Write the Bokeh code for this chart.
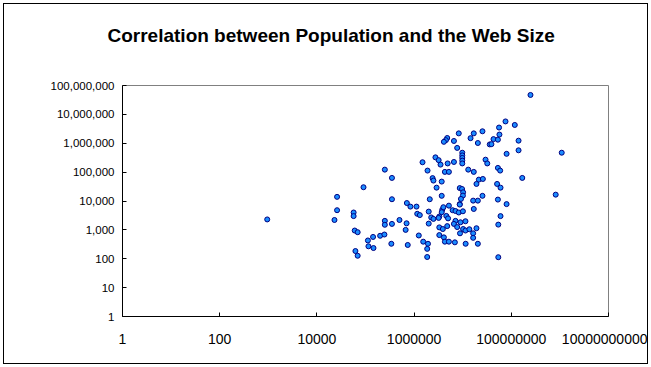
from bokeh.plotting import figure
from bokeh.models import Range1d, FixedTicker, NumeralTickFormatter, Title, ColumnDataSource
from bokeh.embed import file_html
from bokeh.resources import INLINE

# Population (x) and web size (y)
population = [
    2.48e8, 7.6e7, 1.18e8, 5.6e7, 2.55e7, 1.69e7, 8.3e6, 1.45e7, 4.8e6, 4.5e6,
    4.1e6, 6.6e6, 2.05e7, 5.7e7, 4.3e7, 5.3e7, 3.6e7, 3.9e7, 1.41e8, 1.41e8,
    8.0e7, 1.09e9, 7.7e6, 9.8e6, 9.8e6, 9.8e6, 9.8e6, 9.8e6, 2.75e6, 3.2e6,
    1.49e6, 3.5e6, 4.9e6, 6.6e6, 2.95e7, 3.2e7, 2.5e5, 1.89e6, 4.3e6, 5.2e6,
    1.3e7, 1.69e7, 5.3e7, 5.9e7, 1.68e8, 3.5e5, 2.4e6, 2.5e6, 3.7e6, 2.15e7,
    2.6e7, 1.92e7, 5.1e7, 6.0e7, 2.9e6, 8.7e6, 9.7e6, 1.02e7, 1.01e7, 9.2e6,
    8.7e6, 9.1e4, 8.2e8, 2.55e7, 5.3e7, 3.7e6, 2.1e6, 3.5e5, 1.64e7, 2.05e7,
    2.6e4, 8.0e7, 7.1e5, 8.4e5, 1.12e6, 1.69e7, 6.0e7, 5.4e7, 2.6e4, 5.7e4,
    5.7e4, 2.3e4, 950, 1.16e6, 1.31e6, 2.0e6, 2.25e6, 2.5e6, 3.8e6, 4.0e6,
    3.7e6, 3.3e6, 3.2e6, 5.2e6, 6.2e6, 7.1e6, 8.3e6, 1.01e7, 8.7e6, 4.6e6,
    5.0e6, 7.1e6, 6.6e6, 7.7e6, 9.0e6, 1.14e7, 1.02e7, 1.14e7, 1.37e7, 1.92e7,
    8.8e6, 1.64e7, 1.64e7, 2.05e7, 1.15e7, 3.3e6, 3.9e6, 4.8e6, 2.0e6, 3.3e6,
    4.1e6, 4.3e6, 5.2e6, 6.9e6, 2.5e5, 2.5e5, 3.5e5, 5.0e5, 7.0e5, 6.7e5,
    1.25e6, 1.54e6, 1.93e6, 1.86e6, 1.86e6, 5.4e7, 7.4e5, 3.4e5, 2.0e5, 2.45e5,
    1.43e5, 1.12e5, 1.15e5, 1.46e5, 6.0e4, 6.9e4, 6.2e4, 6.9e4,
]
web_size = [
    4.7e7, 5.7e6, 4.3e6, 3.5e6, 2.6e6, 2.2e6, 2.2e6, 1.5e6, 1.52e6, 1.28e6,
    1.12e6, 1.2e6, 1.02e6, 2.0e6, 1.39e6, 1.33e6, 9.1e5, 9.3e5, 1.23e6, 5.7e5,
    4.3e5, 4.7e5, 6.9e5, 4.7e5, 3.8e5, 3.1e5, 2.5e5, 2.0e5, 3.25e5, 2.6e5,
    2.2e5, 1.82e5, 2.0e5, 2.25e5, 2.7e5, 2.0e5, 1.22e5, 1.13e5, 1.02e5, 1.02e5,
    1.22e5, 1.02e5, 1.4e5, 1.13e5, 6.3e4, 6.3e4, 6.2e4, 5.1e4, 4.7e4, 5.5e4,
    5.8e4, 3.9e4, 3.9e4, 2.9e4, 2.9e4, 2.8e4, 2.6e4, 2.0e4, 1.54e4, 1.18e4,
    7.8e3, 3.0e4, 1.66e4, 1.51e4, 1.12e4, 1.51e4, 1.15e4, 1.15e4, 1.03e4, 1.03e4,
    1.39e4, 7.8e3, 8.5e3, 6.4e3, 6.4e3, 5.3e3, 3.0e3, 1.52e3, 4.8e3, 4.0e3,
    3.0e3, 2.2e3, 2.3e3, 3.6e3, 3.25e3, 4.3e3, 2.7e3, 2.4e3, 5.0e3, 6.1e3,
    4.1e3, 2.9e3, 2.6e3, 6.9e3, 4.8e3, 4.5e3, 4.0e3, 4.4e3, 7.5e3, 3.05e3,
    2.5e3, 2.05e3, 1.61e3, 1.25e3, 1.83e3, 1.99e3, 1.07e3, 950, 1.05e3, 1.14e3,
    760, 760, 530, 330, 330, 1.22e3, 1.07e3, 1.35e3, 1.65e3, 660,
    550, 390, 390, 370, 2.05e3, 1.5e3, 1.61e3, 2.2e3, 1.69e3, 1.0e3,
    640, 390, 330, 220, 115, 113, 300, 330, 625, 690,
    570, 430, 270, 235, 950, 830, 185, 127,
]

x_ticks = [1, 100, 1e4, 1e6, 1e8, 1e10]
y_ticks = [1, 10, 100, 1e3, 1e4, 1e5, 1e6, 1e7, 1e8]
title_text = "Correlation between Population and the Web Size"

source = ColumnDataSource(data=dict(population=population, web_size=web_size))

p = figure(
    width=645, height=361,
    x_axis_type="log", y_axis_type="log",
    x_range=Range1d(1, 1e10), y_range=Range1d(1, 1e8),
    output_backend="svg", toolbar_location=None,
    min_border_left=118, min_border_right=41,
    min_border_top=81, min_border_bottom=49,
)
p.styles = {"border": "1px solid black", "margin-left": "3px", "margin-top": "3px"}
p.background_fill_color = "white"
p.border_fill_color = "white"
p.outline_line_color = "#808080"
p.outline_line_width = 1
p.grid.visible = False

for ax in (p.xaxis[0], p.yaxis[0]):
    ax.axis_line_color = "black"
    ax.major_tick_line_color = "black"
    ax.major_tick_in = 4
    ax.major_tick_out = 0
    ax.minor_tick_line_color = None
    ax.major_label_text_font = "Liberation Sans"
    ax.major_label_text_color = "black"

p.xaxis[0].ticker = FixedTicker(ticks=x_ticks)
p.yaxis[0].ticker = FixedTicker(ticks=y_ticks)
p.xaxis[0].formatter = NumeralTickFormatter(format="0")
p.yaxis[0].formatter = NumeralTickFormatter(format="0,0")
p.xaxis[0].major_label_text_font_size = "14px"
p.yaxis[0].major_label_text_font_size = "11.5px"
p.xaxis[0].major_label_standoff = 17
p.yaxis[0].major_label_standoff = 8

p.scatter("population", "web_size", source=source, size=5,
          fill_color="#1a8cff", line_color="#000080", line_width=1)

spacer = Title(text=" ", align="left", vertical_align="top", standoff=0,
               text_font="Liberation Sans", text_font_size="32px")
title = Title(text=title_text, align="left", offset=-15,
              vertical_align="top", standoff=0,
              text_font="Liberation Sans", text_font_style="bold",
              text_font_size="19px", text_color="black")
p.add_layout(spacer, "above")
p.add_layout(title, "above")

open("out.html", "w").write(file_html(p, INLINE))
